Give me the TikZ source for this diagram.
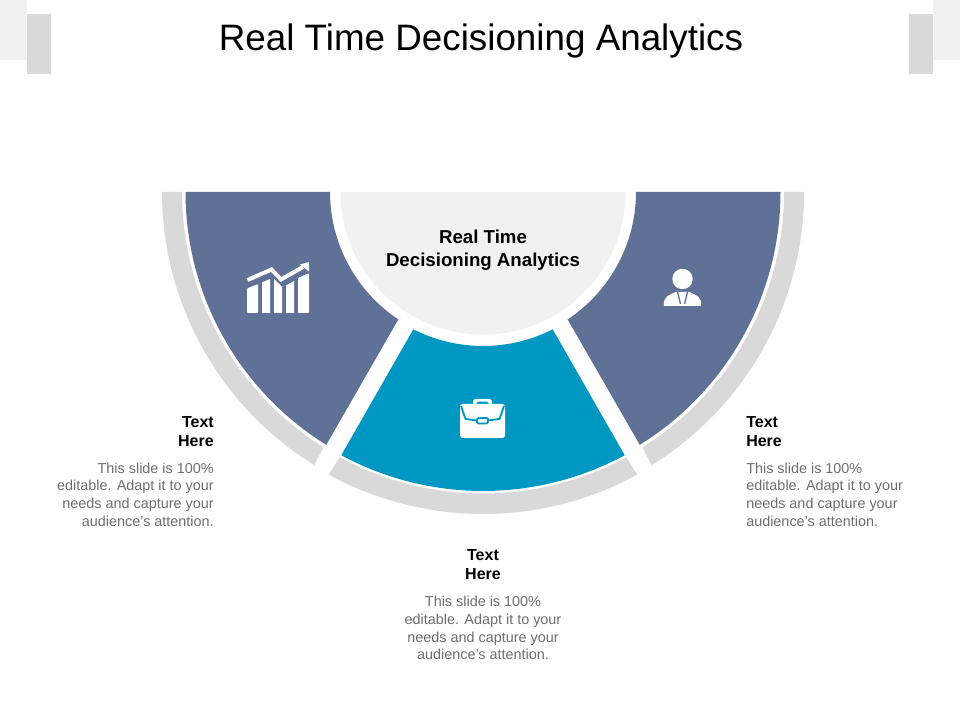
\documentclass[tikz,border=0pt]{standalone}
\usepackage{fontspec}
\setmainfont{Liberation Sans}
\definecolor{slateblue}{HTML}{5F7196}
\definecolor{tealblue}{HTML}{0098C3}
\definecolor{rimgray}{HTML}{D9D9D9}
\definecolor{palegray}{HTML}{F1F1F1}
\definecolor{bodygray}{HTML}{6E6E6E}
\tikzset{
  rim/.style={fill=rimgray,draw=none},
  sector/.style={fill=slateblue,draw=none},
  icon/.style={fill=white,draw=none},
  heading/.style={font=\fontsize{12}{14.25}\selectfont\bfseries,text=black,inner sep=0pt},
  bodytext/.style={font=\fontsize{10.8}{13.3}\selectfont,text=bodygray,inner sep=0pt},
}
\newcommand{\bodylines}{This slide is 100\%\\editable. Adapt it to your\\needs and capture your\\audience's attention.}
\begin{document}
\begin{tikzpicture}[x=.75pt,y=.75pt]
\useasboundingbox (0,0) rectangle (960,720);
\fill[white] (0,0) rectangle (960,720);
% sectors, drawn in a y-up frame around the centre of the half disc
\begin{scope}[shift={(483,528)}]
  \fill[rim] (180:321) arc[start angle=180,end angle=238.3,radius=321*.75pt]
     -- (238:301) arc[start angle=238,end angle=180,radius=301*.75pt] -- cycle;
  \fill[rim] (241.4:322) arc[start angle=241.4,end angle=298.6,radius=322*.75pt]
     -- (298.4:301.5) arc[start angle=298.4,end angle=241.6,radius=301.5*.75pt] -- cycle;
  \fill[rim] (360:321) arc[start angle=360,end angle=301.7,radius=321*.75pt]
     -- (302:301) arc[start angle=302,end angle=360,radius=301*.75pt] -- cycle;
  \fill[sector] (180:297.5) arc[start angle=180,end angle=238.2,radius=297.5*.75pt]
     -- (236.4:153) arc[start angle=236.4,end angle=180,radius=153*.75pt] -- cycle;
  \fill[sector] (360:297.5) arc[start angle=360,end angle=301.8,radius=297.5*.75pt]
     -- (303.6:153) arc[start angle=303.6,end angle=360,radius=153*.75pt] -- cycle;
  \fill[tealblue] (241.7:299) arc[start angle=241.7,end angle=298.3,radius=299*.75pt]
     -- (296.9:154) arc[start angle=296.9,end angle=243.1,radius=154*.75pt] -- cycle;
  \fill[palegray] (180:142.5) arc[start angle=180,end angle=360,radius=142.5*.75pt] -- cycle;
\end{scope}
% everything else in reference pixel coordinates, y down
\begin{scope}[yshift=540pt,y=-.75pt]
  % corner marks
  \fill[palegray] (0,0) rectangle (27,60);
  \fill[rimgray] (27,14) rectangle (51,74);
  \fill[rimgray] (909,14) rectangle (933,74);
  \fill[palegray] (933,0) rectangle (960,60);
  % title
  \node[font=\fontsize{27.6}{32}\selectfont,text=black,inner sep=0pt] (title) at (481,41) {Real Time Decisioning Analytics};
  \node[font=\fontsize{14}{17.2}\selectfont\bfseries,text=black,align=center,inner sep=0pt] (centre) at (483,250.5) {Real Time\\Decisioning Analytics};
  % chart icon
  \fill[icon,rounded corners=.6pt] (247,288.5) -- (258,284) -- (258,313) -- (247,313) -- cycle;
  \fill[icon] (262,282.5) -- (270,279) -- (270,313) -- (262,313) -- cycle;
  \fill[icon] (274,279) -- (282,286.5) -- (282,313) -- (274,313) -- cycle;
  \fill[icon] (286,285.5) -- (294,281) -- (294,313) -- (286,313) -- cycle;
  \fill[icon,rounded corners=.6pt] (298,278) -- (309,273) -- (309,313) -- (298,313) -- cycle;
  \draw[white,line width=3pt,line join=miter] (247.5,280) -- (271.5,269.5) -- (281,279.5) -- (303,267);
  \fill[icon] (309,262) -- (309,271.5) -- (300,264.5) -- cycle;
  % briefcase icon
  \fill[icon,rounded corners=2pt] (473,399) rectangle (492,408);
  \fill[tealblue,rounded corners=1pt] (476.5,401.7) rectangle (488.5,408);
  \fill[icon,rounded corners=2pt] (460,404) rectangle (505,438);
  \draw[tealblue,line width=1.4pt,line join=round] (461,406) -- (465.5,419) -- (477,420.5);
  \draw[tealblue,line width=1.4pt,line join=round] (504,406) -- (499.5,419) -- (488,420.5);
  \draw[tealblue,line width=1.4pt,fill=white,rounded corners=1pt] (477,418) rectangle (488,423.5);
  % person icon
  \fill[icon] (682.5,279) circle[radius=10.2];
  \fill[icon] (664,306) .. controls (663,298) and (667,295.5) .. (676,292)
     -- (689,292) .. controls (698,295.5) and (702,298) .. (701,306) -- cycle;
  \draw[slateblue,line width=1pt] (677.5,292) -- (680.5,304);
  \draw[slateblue,line width=1pt] (687.5,292) -- (684.5,304);
  % labels
  \node[heading,anchor=east,align=right] (lefthead) at (214,432) {Text\\Here};
  \node[bodytext,anchor=east,align=right] (leftbody) at (214,494.5) {\bodylines};
  \node[heading,anchor=west,align=left] (righthead) at (746,432) {Text\\Here};
  \node[bodytext,anchor=west,align=left] (rightbody) at (746,494.5) {\bodylines};
  \node[heading,align=center] (midhead) at (483,565) {Text\\Here};
  \node[bodytext,align=center] (midbody) at (483,628) {\bodylines};
\end{scope}
\end{tikzpicture}
\end{document}
